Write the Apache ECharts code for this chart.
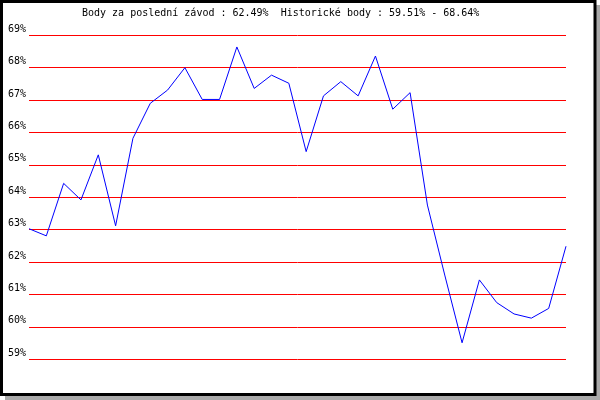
<!DOCTYPE html>
<html>
<head>
<meta charset="utf-8">
<script src="https://cdn.jsdelivr.net/npm/echarts@6/dist/echarts.min.js"></script>
<style>
html,body{margin:0;padding:0;background:#fff;}
#c{width:600px;height:400px;}
</style>
</head>
<body>
<div id="c"></div>
<script>
// Race index (category) and points per race (%)
var races = [];
for (var i = 1; i <= 32; i++) races.push(String(i));
var points = [63.03, 62.81, 64.43, 63.92, 65.31, 63.12, 65.82, 66.90, 67.31, 68.00,
              67.02, 67.02, 68.64, 67.36, 67.77, 67.52, 65.41, 67.13, 67.57, 67.13,
              68.36, 66.72, 67.23, 63.76, 61.60, 59.51, 61.45, 60.75, 60.40, 60.27,
              60.57, 62.49];
var yTicks = [59, 60, 61, 62, 63, 64, 65, 66, 67, 68, 69];

var last = points[points.length - 1];
var minV = Math.min.apply(null, points);
var maxV = Math.max.apply(null, points);
var titleText = 'Body za poslední závod : ' + last.toFixed(2) + '%  Historické body : ' +
                minV.toFixed(2) + '% - ' + maxV.toFixed(2) + '%';

var font = '"DejaVu Sans Mono", monospace';
var chart = echarts.init(document.getElementById('c'), null, {renderer: 'canvas'});
chart.setOption({
  animation: false,
  backgroundColor: '#ffffff',
  title: {
    text: titleText,
    left: 82,
    top: 8,
    padding: 0,
    textStyle: {fontFamily: font, fontSize: 10, fontWeight: 'normal', color: '#000'}
  },
  graphic: [
    {type: 'rect', shape: {x: 596, y: 5, width: 4, height: 395}, style: {fill: '#aaaaaa'}, silent: true},
    {type: 'rect', shape: {x: 5, y: 396, width: 591, height: 4}, style: {fill: '#aaaaaa'}, silent: true},
    {type: 'rect', shape: {x: 1.5, y: 1.5, width: 593.5, height: 393}, style: {fill: null, stroke: '#000', lineWidth: 3}, silent: true}
  ],
  grid: {left: 29, right: 34, top: 35.3, bottom: 40.7, containLabel: false},
  xAxis: {
    type: 'category',
    data: races,
    boundaryGap: false,
    axisLine: {show: false},
    axisTick: {show: false},
    axisLabel: {show: false},
    splitLine: {show: false}
  },
  yAxis: {
    type: 'value',
    min: yTicks[0],
    max: yTicks[yTicks.length - 1],
    interval: 1,
    axisLine: {show: false},
    axisTick: {show: false},
    axisLabel: {
      formatter: '{value}%',
      margin: 3,
      fontFamily: font,
      fontSize: 10,
      color: '#000',
      verticalAlign: 'bottom',
      lineHeight: 12
    },
    splitLine: {show: true, lineStyle: {color: '#ff0000', width: 1}}
  },
  series: [{
    type: 'line',
    data: points,
    symbol: 'none',
    lineStyle: {color: '#0000ff', width: 1},
    itemStyle: {color: '#0000ff'}
  }]
});
</script>
</body>
</html>
